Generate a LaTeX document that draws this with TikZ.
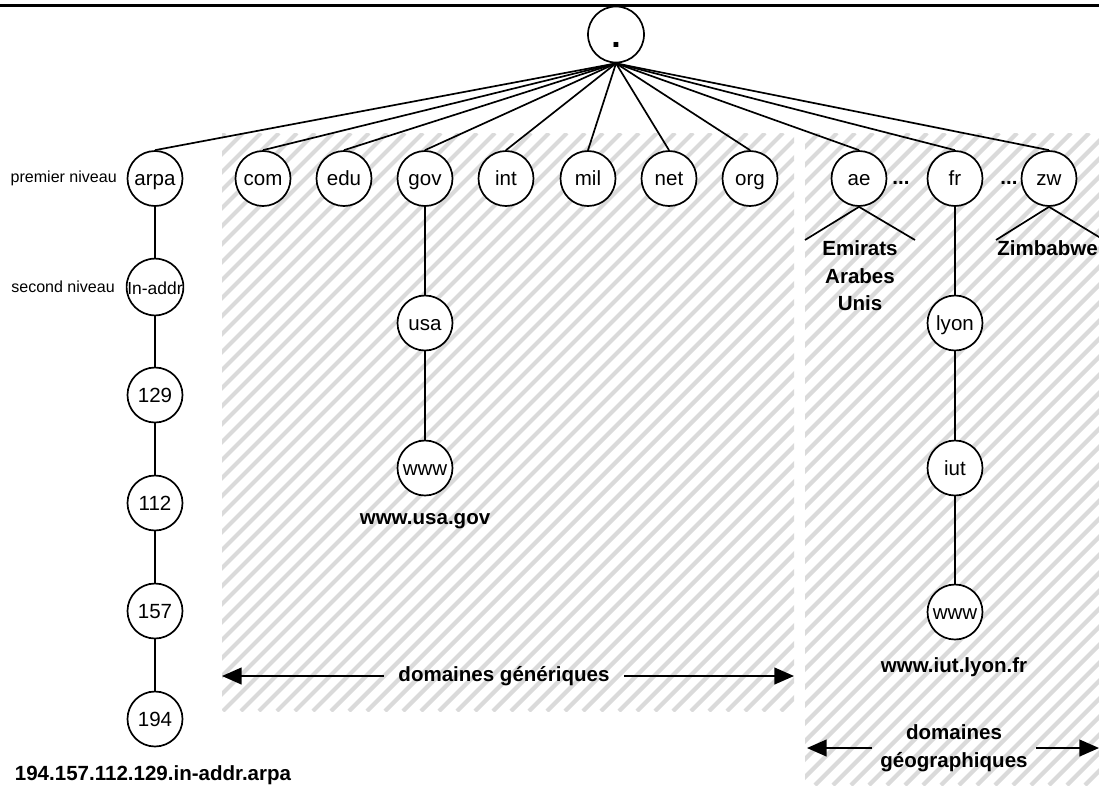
\documentclass[tikz,border=0pt]{standalone}
\usepackage{fontspec}
\setmainfont{Liberation Sans}
\usepackage{xcolor}
\definecolor{hatchGray}{RGB}{218, 218, 218}
\usetikzlibrary{
    arrows.meta,
    positioning
}

\begin{document}
\begin{tikzpicture}[
    x=0.025cm, y=-0.025cm,
    domNode/.style={
        circle, draw=black, line width=1.2pt, fill=white,
        minimum size=1.375cm, inner sep=0pt,
        text height=10pt, text depth=0pt,
        font=\fontsize{14.6}{16}\selectfont
    },
    treeEdge/.style={
        line width=1.2pt, draw=black
    },
    hatchLine/.style={
        draw=hatchGray, line width=3pt
    },
    zoneArrow/.style={
        -{Triangle[length=14pt, width=12pt]}, line width=1.2pt, draw=black
    },
    boldLabel/.style={
        font=\bfseries\fontsize{14.6}{19.6}\selectfont,
        align=center, inner sep=0pt
    },
    levelLabel/.style={
        font=\fontsize{11.4}{13}\selectfont, inner sep=0pt
    }
]
    \useasboundingbox (0,0) rectangle (1099,785);

    % Top rule
    \draw[line width=2.2pt] (0,5.5) -- (1099,5.5);

    % Hatched zones
    \begin{scope}
        \clip (222,133) rectangle (794,711);
        \foreach \c in {340,358,...,1520}
            \draw[hatchLine] (\c-133,133) -- (\c-711,711);
    \end{scope}
    \begin{scope}
        \clip (805,133) rectangle (1099,785);
        \foreach \c in {934,952,...,1900}
            \draw[hatchLine] (\c-133,133) -- (\c-785,785);
    \end{scope}

    % Root
    \node[domNode, minimum size=1.4cm, font=\bfseries\fontsize{24}{24}\selectfont,
          text height=18pt, text depth=0pt] (nRoot) at (616,34.5) {.};

    % First level
    \node[domNode] (nArpa) at (155,178.5) {arpa};
    \foreach \x/\t in {263/com, 344/edu, 425/gov, 506/int, 588/mil, 669/net, 750/org, 859/ae, 955/fr, 1049/zw}
        \node[domNode] (n\t) at (\x,178.5) {\t};

    \foreach \n in {nArpa, ncom, nedu, ngov, nint, nmil, nnet, norg, nae, nfr, nzw}
        \draw[treeEdge] (nRoot.south) -- (\n.north);

    \node[levelLabel, anchor=east] (lPremier) at (117,178.5) {premier niveau};
    \node[levelLabel, anchor=east] (lSecond) at (115,287) {second niveau};

    % in-addr.arpa branch
    \node[domNode, font=\fontsize{12.4}{14}\selectfont] (nInAddr) at (155,287) {In-addr};
    \node[domNode] (n129) at (155,395) {129};
    \node[domNode] (n112) at (155,503) {112};
    \node[domNode] (n157) at (155,611) {157};
    \node[domNode] (n194) at (155,719) {194};
    \draw[treeEdge] (nArpa) -- (nInAddr);
    \draw[treeEdge] (nInAddr) -- (n129);
    \draw[treeEdge] (n129) -- (n112);
    \draw[treeEdge] (n112) -- (n157);
    \draw[treeEdge] (n157) -- (n194);
    \node[boldLabel] (lArpa) at (153,775) {194.157.112.129.in-addr.arpa};

    % gov branch
    \node[domNode] (nUsa) at (425,323) {usa};
    \node[domNode] (nUsaWww) at (425,468) {www};
    \draw[treeEdge] (ngov) -- (nUsa);
    \draw[treeEdge] (nUsa) -- (nUsaWww);
    \node[boldLabel] (lUsa) at (425,521) {www.usa.gov};

    % fr branch
    \node[domNode] (nLyon) at (955,323) {lyon};
    \node[domNode] (nIut) at (955,468) {iut};
    \node[domNode] (nIutWww) at (955,612) {www};
    \draw[treeEdge] (nfr) -- (nLyon);
    \draw[treeEdge] (nLyon) -- (nIut);
    \draw[treeEdge] (nIut) -- (nIutWww);
    \node[boldLabel] (lIut) at (954,667) {www.iut.lyon.fr};

    % ae and zw
    \coordinate (aeL) at (805,240);
    \coordinate (aeR) at (915,240);
    \coordinate (zwL) at (996,240);
    \coordinate (zwR) at (1104,240);
    \draw[treeEdge] (nae.south) -- (aeL);
    \draw[treeEdge] (nae.south) -- (aeR);
    \draw[treeEdge] (nzw.south) -- (zwL);
    \draw[treeEdge] (nzw.south) -- (zwR);
    \node[boldLabel] (lAe) at (860,276) {Emirats\\Arabes\\Unis};
    \node[boldLabel, anchor=west] (lZw) at (997,248) {Zimbabwe};
    \node[boldLabel] (dotsA) at (901,183) {...};
    \node[boldLabel] (dotsB) at (1009,183) {...};

    % Zone arrows
    \coordinate (genL) at (222,676);
    \coordinate (genR) at (794,676);
    \node[boldLabel, inner xsep=10pt] (lGen) at (504,676) {domaines génériques};
    \draw[zoneArrow] (lGen.west) -- (genL);
    \draw[zoneArrow] (lGen.east) -- (genR);

    \coordinate (geoL) at (807,748);
    \coordinate (geoR) at (1099,748);
    \node[boldLabel, inner xsep=6pt] (lGeo) at (954,748) {domaines\\géographiques};
    \draw[zoneArrow] (lGeo.west |- geoL) -- (geoL);
    \draw[zoneArrow] (lGeo.east |- geoR) -- (geoR);

\end{tikzpicture}
\end{document}
